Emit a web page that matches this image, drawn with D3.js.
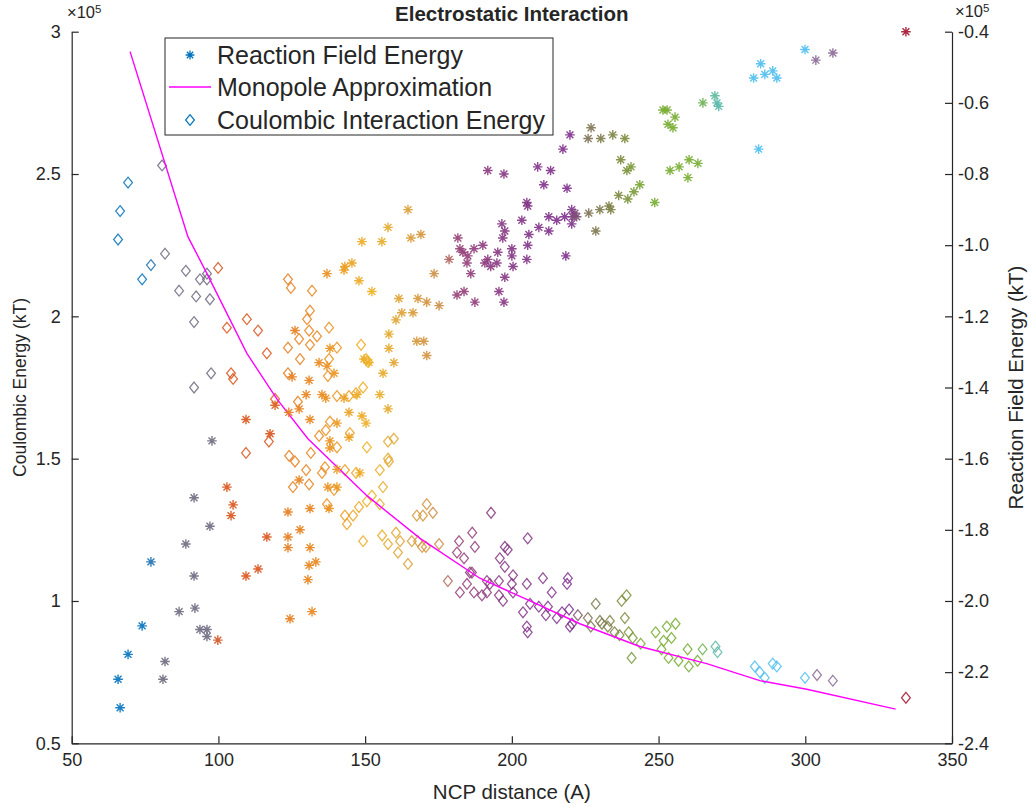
<!DOCTYPE html>
<html>
<head>
<meta charset="utf-8">
<script src="https://cdn.jsdelivr.net/npm/d3@7"></script>
<style>
  body { margin: 0; background: #fff; }
  text { font-family: "Liberation Sans", Helvetica, Arial, sans-serif; fill: #262626; }
</style>
</head>
<body>
<script>
// Reaction field energy (right axis, x10^5 kT) vs NCP distance (A)
const rfDist = [77.0,74.0,69.2,65.8,66.5,97.8,91.7,97.1,88.9,91.7,86.6,92.0,93.7,96.1,96.1,81.8,81.1,
  102.9,105.0,104.3,116.5,113.5,109.4,99.8,119.3,117.6,109.4,
  127.5,123.7,131.2,127.8,123.7,123.7,131.2,133.2,130.9,130.5,124.4,131.9,137.7,137.3,140.4,140.4,148.2,
  126.1,138.0,134.3,137.0,139.4,125.1,130.9,129.9,135.3,136.6,142.8,147.2,124.0,127.5,144.5,148.9,150.3,
  140.4,131.2,138.0,138.0,144.5,149.6,151.3,159.8,156.1,155.0,157.8,158.1,158.1,167.6,170.0,171.0,160.5,
  166.3,168.0,171.0,161.5,162.5,175.2,173.5,178.6,152.3,147.9,137.0,143.1,145.5,142.8,148.9,155.7,157.8,
  165.6,169.0,164.6,
  181.6,182.3,183.3,185.0,184.7,187.1,190.1,186.0,191.8,190.8,192.8,194.9,195.2,196.6,196.9,197.6,200.0,
  200.0,200.4,197.6,195.6,197.3,181.3,183.7,187.4,191.8,197.3,205.1,205.4,203.4,208.8,213.2,210.9,218.8,
  217.4,219.8,205.8,205.4,205.1,209.2,212.6,212.6,215.3,218.0,218.4,220.4,220.7,
  222.1,221.5,220.4,226.2,230.0,233.1,233.7,228.6,236.4,239.5,237.1,239.2,240.6,227.0,226.0,230.3,234.4,238.5,
  243.6,241.6,248.7,251.5,252.9,255.6,253.2,254.9,253.9,257.0,260.4,263.4,260.0,
  265.1,269.2,269.9,270.5,284.8,282.4,286.2,288.9,290.3,284.1,299.9,303.6,309.4,334.3];
const rfEnergy = [-1.89,-2.07,-2.15,-2.22,-2.30,-1.55,-1.71,-1.79,-1.84,-1.93,-2.03,-2.02,-2.08,-2.08,-2.10,-2.17,-2.22,
  -1.68,-1.73,-1.76,-1.82,-1.91,-1.93,-2.11,-1.45,-1.53,-1.49,
  -1.66,-1.75,-1.74,-1.80,-1.82,-1.85,-1.85,-1.89,-1.90,-1.94,-2.05,-2.03,-1.74,-1.68,-1.68,-1.63,-1.64,
  -1.24,-1.29,-1.33,-1.34,-1.36,-1.37,-1.38,-1.42,-1.42,-1.43,-1.43,-1.42,-1.47,-1.46,-1.47,-1.48,-1.50,
  -1.50,-1.49,-1.55,-1.57,-1.54,-1.32,-1.33,-1.33,-1.36,-1.42,-1.46,-1.25,-1.29,-1.27,-1.27,-1.31,-1.21,
  -1.19,-1.15,-1.16,-1.15,-1.19,-1.17,-1.08,-1.04,-1.13,-1.10,-1.08,-1.06,-1.05,-1.07,-0.99,-0.99,-0.95,
  -0.98,-0.97,-0.90,
  -0.98,-1.01,-1.02,-1.03,-1.05,-1.01,-1.00,-1.08,-1.04,-1.05,-1.06,-1.05,-1.02,-0.94,-0.98,-0.96,-1.01,
  -1.03,-1.06,-1.09,-1.13,-1.16,-1.14,-1.13,-1.16,-0.79,-0.80,-0.88,-0.89,-0.93,-0.78,-0.79,-0.83,-0.84,
  -0.73,-0.69,-0.97,-1.00,-1.04,-0.95,-0.92,-0.96,-0.93,-0.92,-1.03,-0.90,-0.92,
  -0.92,-0.91,-0.94,-0.91,-0.90,-0.89,-0.90,-0.96,-0.86,-0.87,-0.76,-0.79,-0.78,-0.67,-0.70,-0.70,-0.69,-0.70,
  -0.83,-0.85,-0.88,-0.62,-0.62,-0.64,-0.66,-0.67,-0.79,-0.78,-0.76,-0.77,-0.81,
  -0.60,-0.58,-0.60,-0.61,-0.49,-0.53,-0.52,-0.51,-0.53,-0.73,-0.45,-0.48,-0.46,-0.40];

// Coulombic interaction energy (left axis, x10^5 kT) vs NCP distance (A)
const ciDist = [69.2,66.5,65.8,77.0,74.0,80.8,81.8,88.9,93.7,96.1,96.1,86.6,92.4,97.1,91.7,97.5,91.7,
  99.9,102.9,109.7,113.5,116.5,104.3,105.0,119.3,117.2,109.4,
  123.7,124.7,131.9,131.2,130.2,130.9,133.6,137.7,127.5,123.7,131.2,140.4,127.8,137.7,123.7,137.3,148.6,
  150.3,151.0,140.4,144.5,146.9,149.3,127.1,138.0,136.6,134.3,144.8,150.6,157.8,159.8,140.4,124.1,126.1,
  131.5,157.8,158.1,129.9,136.3,135.3,143.1,146.9,155.0,125.4,130.9,139.4,156.1,152.3,147.9,150.6,155.0,
  145.9,143.1,143.8,137.0,149.3,155.8,157.8,160.5,161.9,161.2,164.6,167.6,169.7,171.0,173.1,165.9,168.0,
  169.4,170.7,175.2,178.2,
  192.9,186.5,182.0,181.3,183.7,187.4,185.7,186.4,182.3,184.7,187.1,189.8,191.5,192.5,191.5,195.6,195.6,
  197.0,195.9,197.6,198.6,197.6,200.4,200.0,200.4,205.4,205.1,210.6,213.6,206.2,209.2,203.8,205.1,205.4,
  211.6,212.3,215.3,217.1,219.1,218.8,219.5,220.5,219.8,
  222.5,225.9,228.6,226.9,230.0,230.7,233.4,232.7,235.0,236.7,237.4,239.1,238.5,239.8,241.2,243.9,240.8,
  249.0,252.8,255.8,251.7,254.4,251.0,253.4,256.8,259.9,260.3,263.3,265.0,269.4,270.1,
  282.8,284.5,286.2,288.9,290.3,299.9,304.0,309.4,334.3];
const ciEnergy = [2.47,2.37,2.27,2.18,2.13,2.53,2.22,2.16,2.13,2.15,2.13,2.09,2.07,2.06,1.98,1.80,1.75,
  2.17,1.96,1.99,1.95,1.87,1.80,1.78,1.71,1.56,1.52,
  2.13,2.10,2.09,2.02,1.99,1.95,1.93,1.96,1.92,1.89,1.90,1.89,1.85,1.85,1.80,1.79,1.90,
  1.85,1.84,1.72,1.72,1.73,1.75,1.70,1.63,1.60,1.58,1.59,1.54,1.56,1.57,1.54,1.51,1.49,
  1.52,1.50,1.49,1.46,1.47,1.45,1.46,1.45,1.46,1.40,1.41,1.39,1.40,1.37,1.33,1.35,1.34,
  1.30,1.30,1.27,1.34,1.21,1.23,1.20,1.24,1.21,1.17,1.13,1.30,1.30,1.34,1.31,1.21,1.21,
  1.19,1.19,1.20,1.07,
  1.31,1.24,1.21,1.17,1.15,1.19,1.10,1.10,1.03,1.06,1.03,1.02,1.07,1.06,1.03,1.07,1.02,
  1.00,1.15,1.19,1.18,1.12,1.09,1.06,1.03,1.22,1.06,1.08,1.03,0.99,0.98,0.96,0.91,0.89,
  0.95,0.98,0.94,0.96,1.08,1.06,0.97,0.92,0.91,
  0.95,0.94,0.99,0.91,0.93,0.92,0.93,0.91,0.89,0.88,1.00,1.02,0.94,0.89,0.87,0.85,0.80,
  0.89,0.91,0.92,0.86,0.87,0.83,0.80,0.79,0.83,0.77,0.79,0.83,0.84,0.82,
  0.77,0.75,0.73,0.78,0.77,0.73,0.74,0.72,0.66];

// Monopole approximation curve (left axis)
const monoDist = [69.9,89.6,96.1,109.7,119.9,130.5,150.6,168.7,189.1,206.2,223.2,243.6,266.4,284.5,300.5,330.8];
const monoEnergy = [2.93,2.28,2.15,1.87,1.71,1.57,1.37,1.22,1.08,1.00,0.92,0.84,0.78,0.72,0.69,0.62];

const xTicks = [50,100,150,200,250,300,350];
const yLeftTicks = [0.5,1,1.5,2,2.5,3];
const yRightTicks = [-2.4,-2.2,-2,-1.8,-1.6,-1.4,-1.2,-1,-0.8,-0.6,-0.4];
const legendLabels = ["Reaction Field Energy","Monopole Approximation","Coulombic Interaction Energy"];

// marker colour runs along distance (MATLAB colour order, blended)
const colorDomain = [76,80,98,100,118,123,134,152,176,181,198,220,224,238,245,263,269,276,300,303,312,330];
const colorRange = ["#0072BD","#6E6A80","#6E6A80","#D95319","#D95319","#E47A1C","#E8861A","#EDB120","#C98A45","#963F76","#843683","#7E2F8E",
  "#7D6E58","#7B8A3A","#77AC30","#77AC30","#5CB89B","#4DBEEE","#4DBEEE","#8A6A95","#8A6A95","#A2142F"];
const color = d3.scaleLinear().domain(colorDomain).range(colorRange).clamp(true);

const W = 1032, H = 807;
const plot = { left: 71.7, right: 952, top: 31.7, bottom: 743.3 };

const svg = d3.select("body").append("svg").attr("width", W).attr("height", H);

const x = d3.scaleLinear().domain([50, 350]).range([plot.left, plot.right]);
const yL = d3.scaleLinear().domain([0.5, 3]).range([plot.bottom, plot.top]);
const yR = d3.scaleLinear().domain([-2.4, -0.4]).range([plot.bottom, plot.top]);

// Markers
function starPath(r) {
  const d = r * 0.72;
  return `M${-r},0L${r},0M0,${-r}L0,${r}M${-d},${-d}L${d},${d}M${-d},${d}L${d},${-d}`;
}
function diamondPath(w, h) {
  return `M0,${-h}L${w},0L0,${h}L${-w},0Z`;
}

// Coulombic diamonds
svg.append("g").selectAll("path")
  .data(ciDist.map((d, i) => [d, ciEnergy[i]]))
  .enter().append("path")
  .attr("d", diamondPath(4.4, 5.4))
  .attr("transform", d => `translate(${x(d[0])},${yL(d[1])})`)
  .attr("fill", "none")
  .attr("stroke", d => color(d[0]))
  .attr("stroke-width", 1.25)
  .attr("opacity", 0.85);

// Monopole line
svg.append("path")
  .datum(monoDist.map((d, i) => [d, monoEnergy[i]]))
  .attr("d", d3.line().x(d => x(d[0])).y(d => yL(d[1])))
  .attr("fill", "none")
  .attr("stroke", "#FF00FF")
  .attr("stroke-width", 1.4);

// Reaction field stars
svg.append("g").selectAll("path")
  .data(rfDist.map((d, i) => [d, rfEnergy[i]]))
  .enter().append("path")
  .attr("d", starPath(4.8))
  .attr("transform", d => `translate(${x(d[0])},${yR(d[1])})`)
  .attr("fill", "none")
  .attr("stroke", d => color(d[0]))
  .attr("stroke-width", 1.4)
  .attr("opacity", 0.9);

// Axes
const fmtR = d => d.toFixed(1);
const gx = svg.append("g").attr("transform", `translate(0,${plot.bottom})`)
  .call(d3.axisBottom(x).tickValues(xTicks).tickSizeInner(-7).tickSizeOuter(0).tickPadding(10));
const gl = svg.append("g").attr("transform", `translate(${plot.left},0)`)
  .call(d3.axisLeft(yL).tickValues(yLeftTicks).tickFormat(d => String(d)).tickSizeInner(-7).tickSizeOuter(0).tickPadding(11));
const gr = svg.append("g").attr("transform", `translate(${plot.right},0)`)
  .call(d3.axisRight(yR).tickValues(yRightTicks).tickFormat(fmtR).tickSizeInner(-7).tickSizeOuter(0).tickPadding(6));

[gx, gl, gr].forEach(g => {
  g.select(".domain").attr("stroke", "#262626").attr("stroke-width", 1.2);
  g.selectAll(".tick line").attr("stroke", "#262626").attr("stroke-width", 1.2);
  g.selectAll(".tick text").attr("font-size", 18).attr("fill", "#262626")
    .attr("font-family", "'Liberation Sans', Helvetica, Arial, sans-serif");
});

// Exponent labels
function expLabel(px, py) {
  const t = svg.append("text").attr("x", px).attr("y", py).attr("font-size", 16.5);
  t.append("tspan").text("\u00d710");
  t.append("tspan").attr("font-size", 11.5).attr("dy", -5).text("5");
}
expLabel(67, 18);
expLabel(955, 17);

// Title and axis labels
svg.append("text").attr("x", (plot.left + plot.right) / 2).attr("y", 21)
  .attr("text-anchor", "middle").attr("font-size", 20.5).attr("font-weight", "bold")
  .text("Electrostatic Interaction");
svg.append("text").attr("x", (plot.left + plot.right) / 2).attr("y", 799)
  .attr("text-anchor", "middle").attr("font-size", 20.5).text("NCP distance (A)");
svg.append("text").attr("transform", `translate(26,${(plot.top + plot.bottom) / 2}) rotate(-90)`)
  .attr("text-anchor", "middle").attr("font-size", 17.5).text("Coulombic Energy (kT)");
svg.append("text").attr("transform", `translate(1023,${(plot.top + plot.bottom) / 2}) rotate(-90)`)
  .attr("text-anchor", "middle").attr("font-size", 20.5).text("Reaction Field Energy (kT)");

// Legend
const lg = svg.append("g");
lg.append("rect").attr("x", 165).attr("y", 38).attr("width", 388).attr("height", 97)
  .attr("fill", "#fff").attr("stroke", "#262626").attr("stroke-width", 1);
const rows = [55, 87, 120];
lg.append("path").attr("d", starPath(4.4)).attr("transform", `translate(190,${rows[0]})`)
  .attr("fill", "none").attr("stroke", "#0072BD").attr("stroke-width", 1.3);
lg.append("line").attr("x1", 169).attr("x2", 211).attr("y1", rows[1]).attr("y2", rows[1])
  .attr("stroke", "#FF00FF").attr("stroke-width", 1.4);
lg.append("path").attr("d", diamondPath(4.4, 5.4)).attr("transform", `translate(190,${rows[2]})`)
  .attr("fill", "none").attr("stroke", "#0072BD").attr("stroke-width", 1.2);
legendLabels.forEach((t, i) => {
  lg.append("text").attr("x", 217).attr("y", rows[i] + 9).attr("font-size", 25).text(t);
});
</script>
</body>
</html>
